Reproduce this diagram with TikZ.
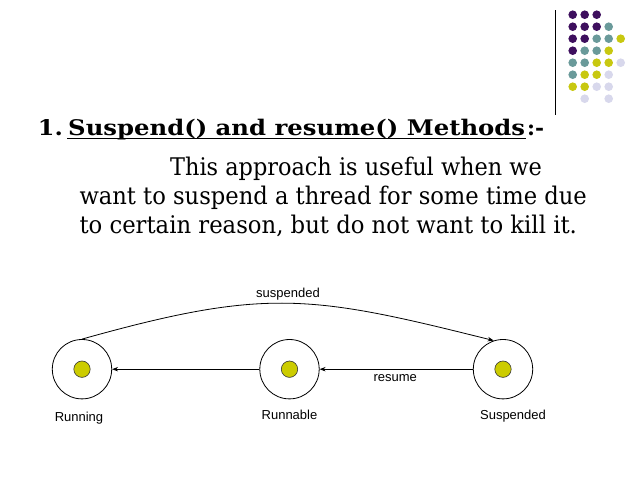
\documentclass[tikz,border=0pt]{standalone}
\usepackage{fontspec}
\setmainfont{DejaVu Serif}
\setsansfont{Liberation Sans}
\usepackage{graphicx}
\usetikzlibrary{arrows.meta}
\definecolor{dpurple}{HTML}{3E0F5E}
\definecolor{dteal}{HTML}{6A9A9A}
\definecolor{dyellow}{HTML}{C8C810}
\definecolor{dlav}{HTML}{D8D8EC}
\definecolor{statedot}{HTML}{CCCC00}
\tikzset{
  statering/.style={circle, draw=black, line width=0.8pt, minimum size=59.4pt, inner sep=0pt, fill=white},
  statecore/.style={circle, draw=black!80, line width=0.6pt, minimum size=16.4pt, inner sep=0pt, fill=statedot},
  arr/.style={draw=black, line width=0.8pt, -{Stealth[length=6pt,width=4.5pt]}},
  lbl/.style={font=\sffamily\fontsize{13}{15}\selectfont, anchor=base, inner sep=0pt},
  bodyline/.style={anchor=base west, inner sep=0pt, font=\fontsize{24.3}{29}\selectfont},
  titlepart/.style={anchor=base west, inner sep=0pt, font=\fontsize{21.5}{25}\selectfont\bfseries},
}
\begin{document}
\begin{tikzpicture}[x=1pt,y=-1pt]
\useasboundingbox (0,0) rectangle (638,479);
\fill[white] (0,0) rectangle (638,479);
% decorative dots
\foreach \c/\r/\col in {
 0/0/dpurple,1/0/dpurple,2/0/dpurple,
 0/1/dpurple,1/1/dpurple,2/1/dpurple,3/1/dteal,
 0/2/dpurple,1/2/dpurple,2/2/dteal,3/2/dteal,4/2/dyellow,
 0/3/dpurple,1/3/dteal,2/3/dteal,3/3/dyellow,
 0/4/dteal,1/4/dteal,2/4/dyellow,3/4/dyellow,4/4/dlav,
 0/5/dteal,1/5/dyellow,2/5/dyellow,3/5/dlav,
 0/6/dyellow,1/6/dyellow,2/6/dlav,3/6/dlav,
 1/7/dlav,3/7/dlav}
 \fill[\col] ({572.7+12*\c},{14.7+12*\r}) circle (4.3);
\draw[line width=1.3pt] (555.7,10) -- (555.7,115);
% title
\node[titlepart] (tnum) at (37.7,135) {\resizebox{25pt}{\height}{1.}};
\node[titlepart] (title) at (68,135) {\resizebox{457pt}{\height}{Suspend() and resume() Methods}};
\node[titlepart] (tend) at (527,135) {\resizebox{17pt}{\height}{:-}};
\draw[line width=1.5pt] (67.3,138.7) -- (526,138.7);
% body
\node[bodyline] (l1) at (170,175) {\resizebox{371.7pt}{\height}{This approach is useful when we}};
\node[bodyline] (l2) at (79.3,204) {\resizebox{507.4pt}{\height}{want to suspend a thread for some time due}};
\node[bodyline] (l3) at (79.3,233) {\resizebox{497.4pt}{\height}{to certain reason, but do not want to kill it.}};
% states
\node[statering] (run) at (82,369.2) {};
\node[statering] (rnb) at (289.5,369.2) {};
\node[statering] (sus) at (503,369.2) {};
\node[statecore] (runc) at (run) {};
\node[statecore] (rnbc) at (rnb) {};
\node[statecore] (susc) at (sus) {};
\draw[arr] (rnb) -- (run);
\draw[arr] (sus) -- (rnb);
\draw[arr] (run.90) .. controls +(183.6,-51.4) and +(-183.6,-46) .. (sus.108);
\node[lbl] (lrun) at (79,421) {Running};
\node[lbl] (lrnb) at (289.5,419.5) {Runnable};
\node[lbl] (lsus) at (513,419.5) {Suspended};
\node[lbl] (lsusp) at (288,297.3) {suspended};
\node[lbl] (lres) at (395.3,381.7) {resume};
\end{tikzpicture}
\end{document}
